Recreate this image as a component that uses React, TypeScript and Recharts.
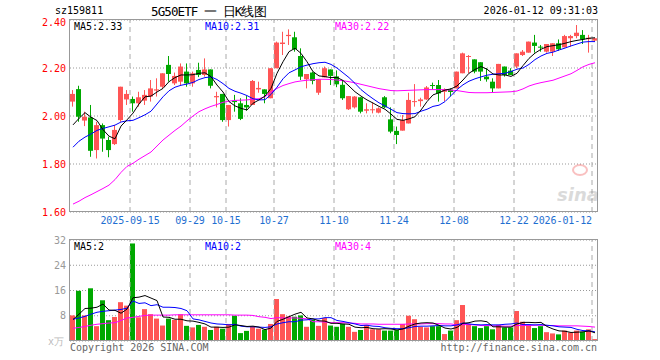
import React from 'react'
import { ComposedChart, Bar, Line, XAxis, YAxis, CartesianGrid, ReferenceLine } from 'recharts'

const RED = '#ff5555'
const GREEN = '#00a800'
const MONO = '"DejaVu Sans Mono", monospace'

// trading days shown, 2025-09-01 .. 2026-01-12
const dates = [
  '2025-09-01', '2025-09-02', '2025-09-03', '2025-09-04', '2025-09-05', '2025-09-08', '2025-09-09', '2025-09-10',
  '2025-09-11', '2025-09-12', '2025-09-15', '2025-09-16', '2025-09-17', '2025-09-18', '2025-09-19', '2025-09-22',
  '2025-09-23', '2025-09-24', '2025-09-25', '2025-09-26', '2025-09-29', '2025-09-30', '2025-10-09', '2025-10-10',
  '2025-10-13', '2025-10-14', '2025-10-15', '2025-10-16', '2025-10-17', '2025-10-20', '2025-10-21', '2025-10-22',
  '2025-10-23', '2025-10-24', '2025-10-27', '2025-10-28', '2025-10-29', '2025-10-30', '2025-10-31', '2025-11-03',
  '2025-11-04', '2025-11-05', '2025-11-06', '2025-11-07', '2025-11-10', '2025-11-11', '2025-11-12', '2025-11-13',
  '2025-11-14', '2025-11-17', '2025-11-18', '2025-11-19', '2025-11-20', '2025-11-21', '2025-11-24', '2025-11-25',
  '2025-11-26', '2025-11-27', '2025-11-28', '2025-12-01', '2025-12-02', '2025-12-03', '2025-12-04', '2025-12-05',
  '2025-12-08', '2025-12-09', '2025-12-10', '2025-12-11', '2025-12-12', '2025-12-15', '2025-12-16', '2025-12-17',
  '2025-12-18', '2025-12-19', '2025-12-22', '2025-12-23', '2025-12-24', '2025-12-25', '2025-12-26', '2025-12-29',
  '2025-12-30', '2025-12-31', '2026-01-05', '2026-01-06', '2026-01-07', '2026-01-08', '2026-01-09', '2026-01-12',
]

const open = [
  2.060, 2.112, 1.981, 1.994, 1.858, 1.962, 1.900, 1.883, 1.983, 2.069, 2.071, 2.053, 2.064, 2.081, 2.106, 2.122,
  2.213, 2.136, 2.143, 2.185, 2.136, 2.192, 2.171, 2.194, 2.078, 2.092, 1.983, 2.064, 2.053, 2.046, 2.046, 2.111,
  2.111, 2.074, 2.199, 2.300, 2.333, 2.328, 2.250, 2.153, 2.181, 2.097, 2.161, 2.194, 2.165, 2.130, 2.028, 2.036,
  2.078, 2.022, 2.024, 2.014, 2.078, 1.986, 1.938, 1.939, 1.969, 2.058, 2.062, 2.069, 2.129, 2.129, 2.101, 2.110,
  2.115, 2.178, 2.247, 2.236, 2.224, 2.164, 2.143, 2.115, 2.206, 2.189, 2.206, 2.254, 2.264, 2.306, 2.289, 2.268,
  2.268, 2.303, 2.286, 2.324, 2.333, 2.338, 2.320, 2.314,
]
const high = [
  2.108, 2.126, 2.018, 2.046, 1.976, 1.969, 1.914, 1.962, 2.122, 2.108, 2.081, 2.101, 2.108, 2.150, 2.157, 2.178,
  2.250, 2.181, 2.219, 2.219, 2.185, 2.222, 2.240, 2.194, 2.101, 2.092, 2.046, 2.088, 2.074, 2.083, 2.150, 2.143,
  2.111, 2.199, 2.310, 2.351, 2.361, 2.351, 2.282, 2.175, 2.185, 2.153, 2.206, 2.194, 2.190, 2.150, 2.083, 2.083,
  2.078, 2.053, 2.056, 2.036, 2.083, 2.036, 1.956, 2.004, 2.097, 2.133, 2.076, 2.125, 2.139, 2.150, 2.115, 2.115,
  2.185, 2.264, 2.254, 2.236, 2.224, 2.199, 2.157, 2.217, 2.206, 2.199, 2.261, 2.275, 2.310, 2.338, 2.296, 2.300,
  2.303, 2.319, 2.338, 2.338, 2.379, 2.358, 2.338, 2.324,
]
const low = [
  2.039, 1.976, 1.958, 1.830, 1.823, 1.851, 1.828, 1.879, 1.976, 2.046, 2.018, 2.039, 2.046, 2.060, 2.081, 2.115,
  2.143, 2.129, 2.129, 2.122, 2.122, 2.162, 2.164, 2.115, 2.036, 1.976, 1.956, 2.018, 1.983, 2.022, 2.046, 2.097,
  2.053, 2.074, 2.199, 2.254, 2.296, 2.268, 2.150, 2.115, 2.132, 2.088, 2.161, 2.129, 2.120, 2.067, 2.025, 2.031,
  2.011, 2.011, 2.011, 2.011, 2.033, 1.928, 1.883, 1.939, 1.969, 2.039, 2.039, 2.067, 2.111, 2.060, 2.062, 2.082,
  2.115, 2.178, 2.178, 2.178, 2.146, 2.143, 2.097, 2.115, 2.164, 2.171, 2.199, 2.250, 2.264, 2.264, 2.268, 2.264,
  2.250, 2.272, 2.286, 2.289, 2.324, 2.300, 2.264, 2.310,
]
const close = [
  2.092, 1.997, 1.997, 1.855, 1.962, 1.906, 1.858, 1.942, 2.122, 2.092, 2.053, 2.078, 2.088, 2.115, 2.111, 2.178,
  2.175, 2.167, 2.206, 2.136, 2.178, 2.171, 2.194, 2.126, 2.083, 1.983, 2.046, 2.058, 1.988, 2.036, 2.146, 2.117,
  2.092, 2.199, 2.306, 2.306, 2.338, 2.278, 2.164, 2.175, 2.146, 2.153, 2.199, 2.167, 2.132, 2.074, 2.083, 2.081,
  2.018, 2.028, 2.028, 2.032, 2.036, 1.935, 1.921, 1.983, 2.067, 2.062, 2.069, 2.119, 2.125, 2.094, 2.112, 2.100,
  2.185, 2.261, 2.250, 2.185, 2.185, 2.153, 2.115, 2.217, 2.171, 2.171, 2.261, 2.268, 2.310, 2.292, 2.286, 2.300,
  2.303, 2.278, 2.333, 2.333, 2.347, 2.319, 2.326, 2.324,
]

// moving averages as drawn
const ma5 = [
  1.963, 1.990, 2.014, 1.995, 1.981, 1.943, 1.916, 1.905, 1.958, 1.984, 2.012, 2.050, 2.080, 2.083, 2.100, 2.115,
  2.143, 2.160, 2.171, 2.171, 2.172, 2.178, 2.180, 2.164, 2.129, 2.100, 2.060, 2.042, 2.032, 2.025, 2.053, 2.067,
  2.083, 2.115, 2.178, 2.226, 2.268, 2.282, 2.261, 2.226, 2.185, 2.167, 2.164, 2.160, 2.161, 2.148, 2.125, 2.101,
  2.083, 2.067, 2.054, 2.040, 2.028, 2.008, 1.986, 1.982, 1.988, 1.997, 2.025, 2.060, 2.088, 2.097, 2.108, 2.113,
  2.125, 2.150, 2.178, 2.194, 2.206, 2.195, 2.175, 2.171, 2.171, 2.165, 2.178, 2.210, 2.240, 2.262, 2.278, 2.289,
  2.293, 2.297, 2.303, 2.310, 2.315, 2.319, 2.324, 2.326,
]
const ma10 = [
  1.870, 1.895, 1.912, 1.925, 1.940, 1.948, 1.955, 1.962, 1.975, 1.980, 1.982, 1.993, 2.005, 2.020, 2.050, 2.080,
  2.105, 2.120, 2.128, 2.133, 2.140, 2.152, 2.160, 2.163, 2.152, 2.135, 2.115, 2.103, 2.095, 2.085, 2.072, 2.067,
  2.068, 2.090, 2.120, 2.155, 2.180, 2.192, 2.205, 2.212, 2.218, 2.222, 2.224, 2.215, 2.200, 2.180, 2.160, 2.136,
  2.110, 2.090, 2.072, 2.055, 2.042, 2.028, 2.014, 2.010, 2.009, 2.010, 2.020, 2.028, 2.040, 2.045, 2.060, 2.085,
  2.110, 2.130, 2.145, 2.155, 2.163, 2.170, 2.174, 2.176, 2.178, 2.185, 2.195, 2.200, 2.215, 2.235, 2.250, 2.261,
  2.266, 2.275, 2.283, 2.292, 2.300, 2.308, 2.310, 2.310,
]
const ma30 = [
  1.633, 1.645, 1.660, 1.672, 1.685, 1.698, 1.712, 1.735, 1.765, 1.790, 1.803, 1.820, 1.835, 1.850, 1.875, 1.900,
  1.920, 1.940, 1.958, 1.980, 2.000, 2.018, 2.030, 2.040, 2.048, 2.057, 2.062, 2.065, 2.066, 2.067, 2.070, 2.072,
  2.080, 2.100, 2.115, 2.127, 2.135, 2.142, 2.146, 2.149, 2.151, 2.153, 2.153, 2.152, 2.150, 2.147, 2.143, 2.138,
  2.132, 2.126, 2.120, 2.114, 2.110, 2.106, 2.105, 2.106, 2.107, 2.108, 2.109, 2.110, 2.110, 2.110, 2.109, 2.108,
  2.106, 2.102, 2.098, 2.097, 2.097, 2.097, 2.098, 2.099, 2.100, 2.101, 2.104, 2.113, 2.125, 2.133, 2.139, 2.144,
  2.149, 2.158, 2.167, 2.176, 2.190, 2.205, 2.215, 2.222,
]

// volume, 万
const volume = [
  8.1, 15.9, 8.1, 16.7, 4.7, 12.9, 6.6, 7.6, 12.3, 11.2, 30.9, 7.5, 10.1, 8.5, 7.1, 4.9,
  7.1, 6.7, 8.5, 4.8, 4.3, 5.1, 4.5, 3.5, 4.5, 3.9, 5.4, 8.0, 2.5, 3.2, 4.6, 3.9,
  3.6, 5.4, 13.3, 8.5, 7.8, 7.7, 8.1, 4.5, 6.7, 4.8, 7.3, 4.9, 4.5, 5.4, 4.5, 2.9,
  3.5, 5.1, 3.7, 3.7, 3.3, 3.3, 3.5, 5.4, 8.0, 6.9, 4.5, 4.3, 4.7, 4.7, 2.2, 3.3,
  6.6, 11.4, 5.4, 4.7, 4.1, 4.7, 3.7, 5.1, 4.3, 4.3, 9.5, 6.1, 5.1, 4.1, 4.7, 2.8,
  2.4, 2.1, 3.3, 2.7, 3.3, 2.9, 3.7, 0.6,
]
const vma5 = [
  6.8, 8.5, 10.3, 10.4, 10.7, 11.7, 9.8, 9.7, 8.8, 10.1, 13.7, 13.9, 14.4, 13.6, 12.8, 7.6,
  7.5, 6.9, 6.9, 6.4, 6.3, 5.9, 5.4, 4.4, 4.4, 4.3, 4.4, 5.1, 4.9, 4.6, 4.7, 4.4,
  3.6, 4.1, 6.2, 6.9, 7.7, 8.5, 9.1, 7.3, 7.0, 6.4, 6.3, 5.6, 5.6, 5.4, 5.3, 4.4,
  4.2, 4.3, 3.9, 3.8, 3.9, 3.8, 3.5, 3.8, 4.7, 5.4, 5.7, 5.8, 5.7, 5.0, 4.1, 3.8,
  4.3, 5.6, 5.8, 6.3, 6.4, 6.1, 4.5, 4.5, 4.4, 4.4, 5.4, 5.9, 5.9, 5.8, 5.9, 4.6,
  3.8, 3.2, 3.1, 2.7, 2.8, 2.9, 3.2, 2.6,
]
const vma10 = [
  6.9, 7.3, 7.8, 8.5, 9.1, 9.4, 9.6, 9.8, 10.0, 10.4, 12.7, 11.9, 12.1, 11.2, 11.5, 10.7,
  10.7, 10.6, 10.3, 9.6, 7.0, 6.7, 6.2, 5.7, 5.4, 5.3, 5.1, 5.3, 4.7, 4.5, 4.5, 4.4,
  4.3, 4.5, 5.4, 5.8, 6.1, 6.1, 6.6, 6.7, 7.0, 7.0, 7.4, 7.4, 6.5, 6.2, 5.8, 5.4,
  4.9, 5.0, 4.7, 4.6, 4.2, 4.0, 3.9, 3.9, 4.2, 4.6, 4.7, 4.7, 4.8, 4.9, 4.8, 4.8,
  5.1, 5.7, 5.4, 5.2, 5.1, 5.2, 5.1, 5.1, 5.3, 5.4, 5.7, 5.2, 5.2, 5.1, 5.2, 5.0,
  4.8, 4.5, 4.4, 4.3, 3.7, 3.3, 3.2, 2.9,
]
const vma30 = [
  4.0, 4.3, 4.6, 5.0, 5.3, 5.5, 5.7, 5.8, 6.5, 7.3, 7.5, 7.8, 8.1, 8.2, 8.2, 8.2,
  8.2, 8.3, 8.3, 8.3, 8.3, 8.3, 8.3, 8.3, 8.3, 8.3, 8.3, 8.2, 8.2, 8.2, 8.1, 7.7,
  7.5, 7.1, 7.4, 7.3, 7.3, 7.3, 7.2, 7.0, 6.1, 6.1, 6.0, 5.8, 5.8, 5.8, 5.7, 5.6,
  5.4, 5.4, 5.4, 5.3, 5.3, 5.3, 5.3, 5.3, 5.4, 5.4, 5.4, 5.5, 5.5, 5.5, 5.4, 5.4,
  5.1, 5.2, 5.2, 5.1, 4.9, 4.9, 4.8, 4.8, 4.7, 4.7, 4.9, 4.9, 4.9, 5.0, 5.0, 4.9,
  4.9, 4.8, 4.8, 4.8, 4.8, 4.7, 4.6, 4.4,
]

const tickDates = ['2025-09-15', '2025-09-29', '2025-10-15', '2025-10-27', '2025-11-10', '2025-11-24', '2025-12-08', '2025-12-22', '2026-01-12']
const tickLabels = ['2025-09-15', '09-29', '10-15', '10-27', '11-10', '11-24', '12-08', '12-22', '2026-01-12']
const priceTicks = [1.6, 1.8, 2.0, 2.2, 2.4]
const volTicks = [0, 8, 16, 24, 32]

const rows = dates.map((date, i) => ({
  date,
  open: open[i],
  high: high[i],
  low: low[i],
  close: close[i],
  range: [low[i], high[i]],
  ma5: ma5[i],
  ma10: ma10[i],
  ma30: ma30[i],
  volume: volume[i],
  vma5: vma5[i],
  vma10: vma10[i],
  vma30: vma30[i],
}))

const last = rows.length - 1

const Candle = (props: any) => {
  const { x, y, width, height, payload } = props
  const top = Math.min(y, y + height)
  const h = Math.abs(height)
  const { open, close, high, low } = payload
  const span = high - low || 1
  const py = (v: number) => top + ((high - v) / span) * h
  const color = close >= open ? RED : GREEN
  const bx = Math.round(x)
  const bTop = py(Math.max(open, close))
  const bBot = py(Math.min(open, close))
  return (
    <g>
      <line x1={bx + 2.5} x2={bx + 2.5} y1={top} y2={top + h} stroke={color} strokeWidth={1} />
      <rect x={bx} y={bTop} width={Math.max(1, width - 1)} height={Math.max(1, bBot - bTop)} fill={color} />
    </g>
  )
}

const VolBar = (props: any) => {
  const { x, y, width, height, payload } = props
  return (
    <rect
      x={Math.round(x)}
      y={y}
      width={Math.max(1, width - 1)}
      height={Math.max(0, height)}
      fill={payload.close >= payload.open ? RED : GREEN}
    />
  )
}

const DateTick = (props: any) => {
  const { x, y, payload } = props
  const k = tickDates.indexOf(payload.value)
  if (k < 0) return null
  const isLast = k === tickDates.length - 1
  const px = x - (payload.offset ?? 3)
  return (
    <text x={px} y={y + 10} textAnchor={isLast ? 'end' : 'middle'} fill="#1f6fd1" fontSize={10} fontFamily={MONO} letterSpacing={-0.1}>
      {tickLabels[k]}
    </text>
  )
}

const PriceTick = (props: any) => {
  const { x, y, payload } = props
  // top label sits just under the frame line
  const dy = payload.value >= 2.4 ? 6 : 3.5
  return (
    <text x={x} y={y + dy} textAnchor="end" fill="#ff0000" fontSize={10} fontFamily={MONO}>
      {Number(payload.value).toFixed(2)}
    </text>
  )
}

const VolTick = (props: any) => {
  const { x, y, payload } = props
  if (payload.value === 0) return null
  return (
    <text x={x} y={y + 3.5} textAnchor="end" fill="#999" fontSize={10} fontFamily={MONO}>
      {payload.value}
    </text>
  )
}

const vLines = tickDates.map((d) => (
  <ReferenceLine key={d} x={d} position="start" stroke="#aaa" strokeDasharray="5 4" />
))

export default function App() {
  return (
    <div style={{ position: 'absolute', left: 0, top: 0, width: 660, height: 360, background: '#fff' }}>
      <div style={{ position: 'absolute', left: 0, top: 0 }}>
        <ComposedChart
          width={660}
          height={230}
          data={rows}
          margin={{ top: 20, right: 62, bottom: 0, left: 0 }}
          barCategoryGap={0}
          barGap={0}
        >
          <CartesianGrid vertical={false} stroke="#999" strokeDasharray="1 2" />
          <XAxis
            dataKey="date"
            ticks={tickDates}
            interval={0}
            height={18}
            axisLine={false}
            tickLine={false}
            tickSize={0}
            tick={(p: any) => <DateTick {...p} />}
          />
          <YAxis
            domain={[1.6, 2.4]}
            ticks={priceTicks}
            width={70}
            axisLine={false}
            tickLine={false}
            tickSize={0}
            tickMargin={4}
            allowDataOverflow
            tick={(p: any) => <PriceTick {...p} />}
          />
          {vLines}
          <Bar dataKey="range" shape={(p: any) => <Candle {...p} />} isAnimationActive={false} />
          <Line dataKey="ma30" stroke="#ff00ff" strokeWidth={1} dot={false} isAnimationActive={false} />
          <Line dataKey="ma10" stroke="#0000ff" strokeWidth={1} dot={false} isAnimationActive={false} />
          <Line dataKey="ma5" stroke="#000000" strokeWidth={1} dot={false} isAnimationActive={false} />
        </ComposedChart>
      </div>

      <div style={{ position: 'absolute', left: 0, top: 230 }}>
        <ComposedChart
          width={660}
          height={130}
          data={rows}
          margin={{ top: 10, right: 62, bottom: 19, left: 0 }}
          barCategoryGap={0}
          barGap={0}
        >
          <CartesianGrid vertical={false} stroke="#999" strokeDasharray="1 2" />
          <XAxis dataKey="date" hide />
          <YAxis
            domain={[0, 32]}
            ticks={volTicks}
            width={70}
            axisLine={false}
            tickLine={false}
            tickSize={0}
            tickMargin={4}
            allowDataOverflow
            tick={(p: any) => <VolTick {...p} />}
          />
          {vLines}
          <Bar dataKey="volume" shape={(p: any) => <VolBar {...p} />} isAnimationActive={false} />
          <Line dataKey="vma30" stroke="#ff00ff" strokeWidth={1} dot={false} isAnimationActive={false} />
          <Line dataKey="vma10" stroke="#0000ff" strokeWidth={1} dot={false} isAnimationActive={false} />
          <Line dataKey="vma5" stroke="#000000" strokeWidth={1} dot={false} isAnimationActive={false} />
        </ComposedChart>
      </div>

      {/* frame, titles and legends */}
      <svg width={660} height={360} style={{ position: 'absolute', left: 0, top: 0, pointerEvents: 'none' }}>
        <g fill="none" stroke="#999" strokeWidth={1}>
          <rect x={69.5} y={19.5} width={528} height={192} />
          <rect x={69.5} y={239.5} width={528} height={101} />
        </g>
        <g fontFamily={MONO} fontSize={10}>
          <text x={55} y={14} fill="#000">sz159811</text>
          <text x={151} y={16} fill="#000" fontSize={12.5} letterSpacing={-0.9}>5G50ETF 一 日K线图</text>
          <text x={598} y={14} fill="#000" textAnchor="end">2026-01-12 09:31:03</text>

          <text x={74} y={30} fill="#000">MA5:{ma5[last].toFixed(2)}</text>
          <text x={205} y={30} fill="#0000ff">MA10:{ma10[last].toFixed(2)}</text>
          <text x={335} y={30} fill="#ff00ff">MA30:{ma30[last].toFixed(2)}</text>

          <text x={74} y={250} fill="#000">MA5:{Math.floor(vma5[last])}</text>
          <text x={205} y={250} fill="#0000ff">MA10:{Math.floor(vma10[last])}</text>
          <text x={335} y={250} fill="#ff00ff">MA30:{Math.floor(vma30[last])}</text>

          <text x={64} y={345} fill="#bbb" textAnchor="end">x万</text>
          <text x={70} y={351} fill="#666">Copyright 2026 SINA.COM</text>
          <text x={597} y={351} fill="#666" textAnchor="end">http://finance.sina.com.cn</text>
        </g>
        <g opacity={0.3}>
          <ellipse cx={580} cy={170} rx={7} ry={5} fill="none" stroke="#e33" strokeWidth={2} />
          <text x={557} y={201} fontSize={18} fontStyle="italic" fontWeight="bold" fill="#888" fontFamily="DejaVu Sans">sina</text>
        </g>
      </svg>
    </div>
  )
}
